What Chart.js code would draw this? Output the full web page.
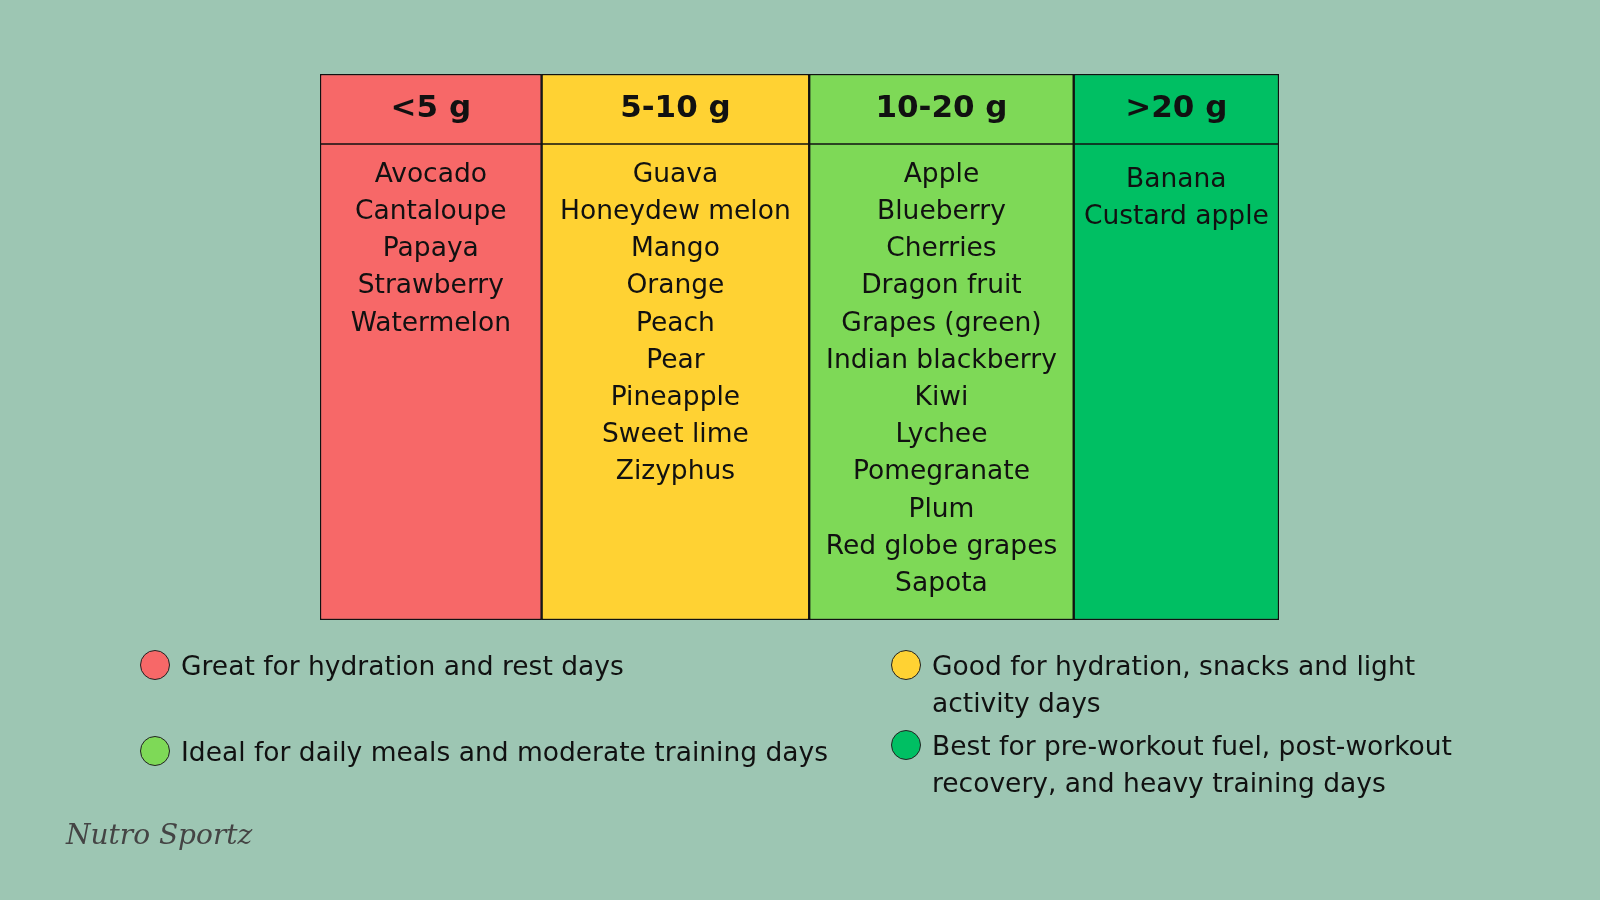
<!DOCTYPE html>
<html>
<head>
<meta charset="utf-8">
<script src="https://cdn.jsdelivr.net/npm/chart.js@4"></script>
<style>
  body { margin: 0; background: #9dc6b3; width: 1600px; height: 900px; overflow: hidden; font-family: "DejaVu Sans", sans-serif; }
  #wrap { position: absolute; left: 0; top: 0; width: 1600px; height: 900px; }
  .leg { position: absolute; font-size: 26.5px; color: #111; line-height: 37px; display: flex; }
  .dot { width: 30px; height: 30px; border-radius: 50%; border: 1.5px solid #222; margin: 3px 11px 0 0; flex: none; box-sizing: border-box; }
  .mark { position: absolute; left: 66px; top: 818px; font: italic 28px "DejaVu Serif", serif; color: #444; }
</style>
</head>
<body>
<div id="wrap"><canvas id="grid" width="1600" height="900"></canvas></div>
<div class="leg" style="left:140px;top:647px"><span class="dot" style="background:#f76868"></span>Great for hydration and rest days</div>
<div class="leg" style="left:891px;top:647px;width:560px"><span class="dot" style="background:#ffd233"></span><span>Good for hydration, snacks and light activity days</span></div>
<div class="leg" style="left:140px;top:733px"><span class="dot" style="background:#7ed957"></span>Ideal for daily meals and moderate training days</div>
<div class="leg" style="left:891px;top:727px;width:600px"><span class="dot" style="background:#00bf63"></span><span>Best for pre-workout fuel, post-workout recovery, and heavy training days</span></div>
<div class="mark">Nutro Sportz</div>
<script>
// column headers (sugar per serving) and relative column widths
const categories = ["<5 g", "5-10 g", "10-20 g", ">20 g"];
const columnWidths = [217, 262, 259, 201];
const colors = ["#f76868", "#ffd233", "#7ed957", "#00bf63"];
const fruits = [
  ["Avocado", "Cantaloupe", "Papaya", "Strawberry", "Watermelon"],
  ["Guava", "Honeydew melon", "Mango", "Orange", "Peach", "Pear", "Pineapple", "Sweet lime", "Zizyphus"],
  ["Apple", "Blueberry", "Cherries", "Dragon fruit", "Grapes (green)", "Indian blackberry", "Kiwi", "Lychee", "Pomegranate", "Plum", "Red globe grapes", "Sapota"],
  ["Banana", "Custard apple"]
];

let start = 0;
const datasets = categories.map((c, i) => {
  const d = {
    label: c,
    data: [[start, start + columnWidths[i]]],
    backgroundColor: colors[i],
    borderColor: "#111",
    borderWidth: 1.5,
    borderSkipped: false,
    barPercentage: 1,
    categoryPercentage: 1,
    grouped: false
  };
  start += columnWidths[i];
  return d;
});

const textPlugin = {
  id: "cellText",
  afterDatasetsDraw(chart) {
    const ctx = chart.ctx;
    const area = chart.chartArea;
    const headerBottom = area.top + 70;
    ctx.save();
    ctx.strokeStyle = "#111";
    ctx.lineWidth = 1.5;
    ctx.beginPath();
    ctx.moveTo(area.left, headerBottom);
    ctx.lineTo(area.right, headerBottom);
    ctx.stroke();
    ctx.textAlign = "center";
    ctx.textBaseline = "middle";
    ctx.fillStyle = "#111";
    chart.data.datasets.forEach((ds, i) => {
      const bar = chart.getDatasetMeta(i).data[0];
      const cx = (bar.x + bar.base) / 2;
      ctx.font = "bold 31px 'DejaVu Sans', sans-serif";
      ctx.fillText(categories[i], cx, area.top + 35);
      ctx.font = "26.5px 'DejaVu Sans', sans-serif";
      const y0 = headerBottom + (i === 3 ? 36 : 31);
      fruits[i].forEach((f, k) => ctx.fillText(f, cx, y0 + k * 37.2));
    });
    ctx.restore();
  }
};

new Chart(document.getElementById("grid"), {
  type: "bar",
  data: { labels: ["fruits"], datasets },
  options: {
    indexAxis: "y",
    responsive: false,
    animation: false,
    layout: { padding: { left: 320, right: 1600 - 1279, top: 74, bottom: 900 - 620 } },
    plugins: { legend: { display: false }, tooltip: { enabled: false } },
    scales: {
      x: { display: false, min: 0, max: start },
      y: { display: false }
    }
  },
  plugins: [textPlugin]
});
</script>
</body>
</html>
